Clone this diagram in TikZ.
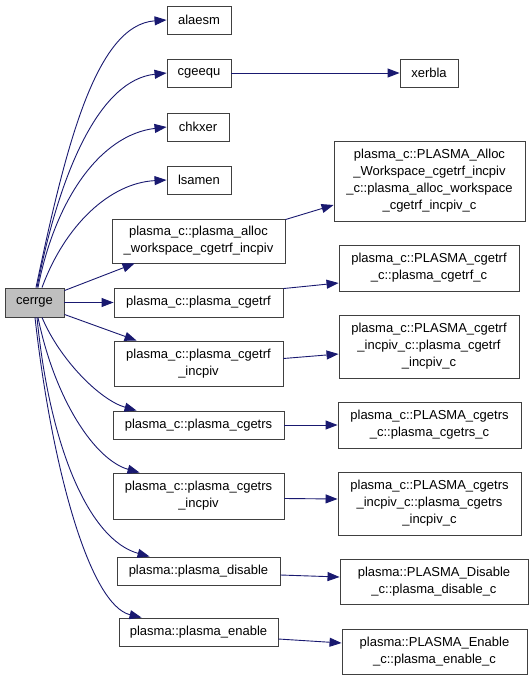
\documentclass[tikz,border=0pt]{standalone}
\usepackage{fontspec}
\setmainfont{Liberation Sans}
\usetikzlibrary{arrows.meta}
\definecolor{edgec}{RGB}{25,25,112}
\definecolor{boxc}{RGB}{64,64,64}
\definecolor{mainfill}{RGB}{191,191,191}
\tikzset{
  box/.style={draw=boxc, line width=0.9pt, fill=white, inner sep=0pt, align=center,
    font=\fontsize{13}{17}\selectfont},
  e/.style={draw=edgec, line width=0.9pt, -{Triangle[length=12pt,width=9pt]}}
}
\begin{document}
\begin{tikzpicture}[x=1pt,y=-1pt]
\useasboundingbox (0,0) rectangle (531,680);
% left column
\node[box, fill=mainfill, minimum width=59pt, minimum height=29pt] (cerrge) at (34.5,302.5) {cerrge};
% middle column
\node[box, minimum width=64pt, minimum height=28pt] (alaesm) at (199,20) {alaesm};
\node[box, minimum width=64pt, minimum height=28pt] (cgeequ) at (199,73) {cgeequ};
\node[box, minimum width=62pt, minimum height=28pt] (chkxer) at (198,127) {chkxer};
\node[box, minimum width=64pt, minimum height=28pt] (lsamen) at (199,180) {lsamen};
\node[box, minimum width=173pt, minimum height=44pt] (alloc) at (198.5,241) {plasma\_c::plasma\_alloc\\\_workspace\_cgetrf\_incpiv};
\node[box, minimum width=169pt, minimum height=29pt] (cgetrf) at (198.5,302.5) {plasma\_c::plasma\_cgetrf};
\node[box, minimum width=169pt, minimum height=45pt] (cgetrfi) at (198.5,363.5) {plasma\_c::plasma\_cgetrf\\\_incpiv};
\node[box, minimum width=171pt, minimum height=28pt] (cgetrs) at (198.5,425) {plasma\_c::plasma\_cgetrs};
\node[box, minimum width=171pt, minimum height=46pt] (cgetrsi) at (198.5,496) {plasma\_c::plasma\_cgetrs\\\_incpiv};
\node[box, minimum width=163pt, minimum height=28pt] (disable) at (198.5,571) {plasma::plasma\_disable};
\node[box, minimum width=159pt, minimum height=28pt] (enable) at (198.5,632) {plasma::plasma\_enable};
% right column
\node[box, minimum width=58pt, minimum height=28pt] (xerbla) at (429,73) {xerbla};
\node[box, minimum width=191pt, minimum height=80pt] (Palloc) at (429.5,181) {plasma\_c::PLASMA\_Alloc\\\_Workspace\_cgetrf\_incpiv\\\_c::plasma\_alloc\_workspace\\\_cgetrf\_incpiv\_c};
\node[box, minimum width=180pt, minimum height=46pt] (Pcgetrf) at (429,268) {plasma\_c::PLASMA\_cgetrf\\\_c::plasma\_cgetrf\_c};
\node[box, minimum width=180pt, minimum height=63pt] (Pcgetrfi) at (429,346.5) {plasma\_c::PLASMA\_cgetrf\\\_incpiv\_c::plasma\_cgetrf\\\_incpiv\_c};
\node[box, minimum width=183pt, minimum height=46pt] (Pcgetrs) at (429.5,425) {plasma\_c::PLASMA\_cgetrs\\\_c::plasma\_cgetrs\_c};
\node[box, minimum width=183pt, minimum height=63pt] (Pcgetrsi) at (429.5,503.5) {plasma\_c::PLASMA\_cgetrs\\\_incpiv\_c::plasma\_cgetrs\\\_incpiv\_c};
\node[box, minimum width=188pt, minimum height=45pt] (Pdisable) at (434,581.5) {plasma::PLASMA\_Disable\\\_c::plasma\_disable\_c};
\node[box, minimum width=185pt, minimum height=45pt] (Penable) at (434.5,651.5) {plasma::PLASMA\_Enable\\\_c::plasma\_enable\_c};
% edges from cerrge (top)
\draw[e] ([xshift=1.5pt]cerrge.north) .. controls (65,150) and (95,25) .. (alaesm.west);
\draw[e] ([xshift=2.5pt]cerrge.north) .. controls (60,170) and (100,80) .. (cgeequ.west);
\draw[e] ([xshift=3.5pt]cerrge.north) .. controls (55,200) and (100,135) .. (chkxer.west);
\draw[e] ([xshift=7.5pt]cerrge.north) .. controls (65,225) and (110,183) .. (lsamen.west);
\draw[e] ([yshift=-3pt]cerrge.north east) -- ([xshift=23pt]alloc.south west);
\draw[e] (cerrge.east) -- (cgetrf.west);
\draw[e] ([yshift=3pt]cerrge.south east) -- ([xshift=23pt]cgetrfi.north west);
% edges from cerrge (bottom)
\draw[e] ([xshift=7.5pt]cerrge.south) .. controls (60,360) and (100,400) .. ([xshift=24pt]cgetrs.north west);
\draw[e] ([xshift=3.5pt]cerrge.south) .. controls (55,400) and (95,460) .. ([xshift=27pt]cgetrsi.north west);
\draw[e] ([xshift=2.5pt]cerrge.south) .. controls (50,450) and (90,540) .. ([xshift=33pt]disable.north west);
\draw[e] ([xshift=0.5pt]cerrge.south) .. controls (52,470) and (90,605) .. ([xshift=23pt]enable.north west);
% right edges
\draw[e] (cgeequ.east) -- (xerbla.west);
\draw[e] ([yshift=-1pt]alloc.north east) -- ([yshift=-24pt]Palloc.west);
\draw[e] ([yshift=-1pt]cgetrf.north east) -- ([yshift=-15pt]Pcgetrf.west);
\draw[e] ([yshift=5pt]cgetrfi.east) -- ([yshift=-7.5pt]Pcgetrfi.west);
\draw[e] (cgetrs.east) -- (Pcgetrs.west);
\draw[e] ([yshift=-2.5pt]cgetrsi.east) -- ([yshift=4.5pt]Pcgetrsi.west);
\draw[e] ([yshift=-4pt]disable.east) -- ([yshift=4.5pt]Pdisable.west);
\draw[e] ([yshift=-7pt]enable.east) -- ([yshift=8.5pt]Penable.west);
\end{tikzpicture}
\end{document}
